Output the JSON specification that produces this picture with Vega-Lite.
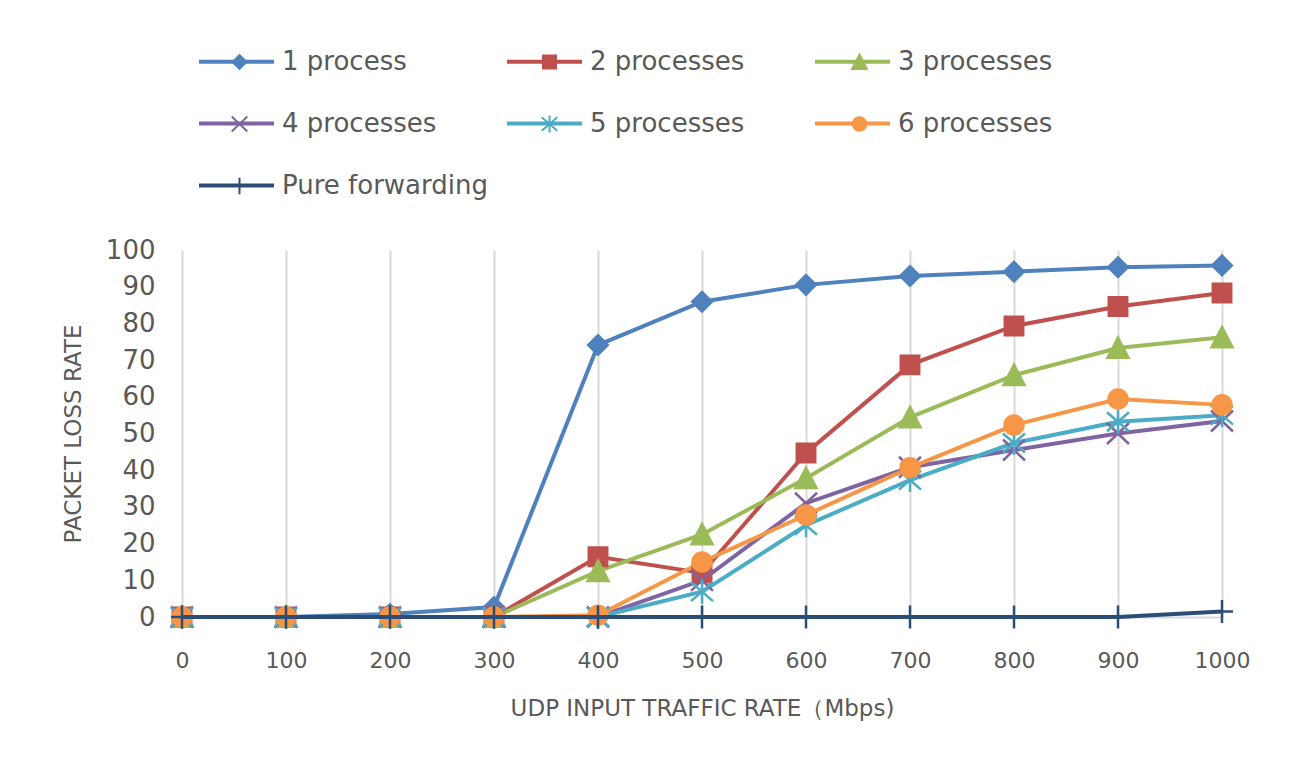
{
  "$schema": "https://vega.github.io/schema/vega-lite/v6.json",
  "width": 1040,
  "height": 367,
  "autosize": {"type": "none"},
  "padding": {"left": 182, "top": 250, "right": 78, "bottom": 147},
  "background": "white",
  "config": {
    "view": {"stroke": null},
    "font": "DejaVu Sans",
    "legend": {
      "orient": "none",
      "direction": "horizontal",
      "columns": 3,
      "gridAlign": "all",
      "columnPadding": 11,
      "rowPadding": 36,
      "padding": 0,
      "labelFont": "DejaVu Sans",
      "labelFontSize": 26,
      "labelColor": "#595959",
      "labelLimit": 400
    }
  },
  "data": {
    "values": [
      {"x": 0, "series": "1 process", "v": 0},
      {"x": 100, "series": "1 process", "v": 0},
      {"x": 200, "series": "1 process", "v": 0.8},
      {"x": 300, "series": "1 process", "v": 2.7},
      {"x": 400, "series": "1 process", "v": 74.1},
      {"x": 500, "series": "1 process", "v": 85.9},
      {"x": 600, "series": "1 process", "v": 90.5},
      {"x": 700, "series": "1 process", "v": 92.9},
      {"x": 800, "series": "1 process", "v": 94.1},
      {"x": 900, "series": "1 process", "v": 95.3},
      {"x": 1000, "series": "1 process", "v": 95.8},
      {"x": 0, "series": "2 processes", "v": 0},
      {"x": 100, "series": "2 processes", "v": 0},
      {"x": 200, "series": "2 processes", "v": 0},
      {"x": 300, "series": "2 processes", "v": 0},
      {"x": 400, "series": "2 processes", "v": 16.4},
      {"x": 500, "series": "2 processes", "v": 12},
      {"x": 600, "series": "2 processes", "v": 44.7},
      {"x": 700, "series": "2 processes", "v": 68.7},
      {"x": 800, "series": "2 processes", "v": 79.3},
      {"x": 900, "series": "2 processes", "v": 84.6},
      {"x": 1000, "series": "2 processes", "v": 88.3},
      {"x": 0, "series": "3 processes", "v": 0},
      {"x": 100, "series": "3 processes", "v": 0},
      {"x": 200, "series": "3 processes", "v": 0},
      {"x": 300, "series": "3 processes", "v": 0},
      {"x": 400, "series": "3 processes", "v": 12.5},
      {"x": 500, "series": "3 processes", "v": 22.5},
      {"x": 600, "series": "3 processes", "v": 37.8},
      {"x": 700, "series": "3 processes", "v": 54.4},
      {"x": 800, "series": "3 processes", "v": 65.9},
      {"x": 900, "series": "3 processes", "v": 73.3},
      {"x": 1000, "series": "3 processes", "v": 76.2},
      {"x": 0, "series": "4 processes", "v": 0},
      {"x": 100, "series": "4 processes", "v": 0},
      {"x": 200, "series": "4 processes", "v": 0},
      {"x": 300, "series": "4 processes", "v": 0},
      {"x": 400, "series": "4 processes", "v": 0},
      {"x": 500, "series": "4 processes", "v": 10},
      {"x": 600, "series": "4 processes", "v": 31},
      {"x": 700, "series": "4 processes", "v": 40.8},
      {"x": 800, "series": "4 processes", "v": 45.5},
      {"x": 900, "series": "4 processes", "v": 50},
      {"x": 1000, "series": "4 processes", "v": 53.4},
      {"x": 0, "series": "5 processes", "v": 0},
      {"x": 100, "series": "5 processes", "v": 0},
      {"x": 200, "series": "5 processes", "v": 0},
      {"x": 300, "series": "5 processes", "v": 0},
      {"x": 400, "series": "5 processes", "v": 0},
      {"x": 500, "series": "5 processes", "v": 6.9},
      {"x": 600, "series": "5 processes", "v": 25},
      {"x": 700, "series": "5 processes", "v": 37.3},
      {"x": 800, "series": "5 processes", "v": 47.4},
      {"x": 900, "series": "5 processes", "v": 53.2},
      {"x": 1000, "series": "5 processes", "v": 55},
      {"x": 0, "series": "6 processes", "v": 0},
      {"x": 100, "series": "6 processes", "v": 0},
      {"x": 200, "series": "6 processes", "v": 0},
      {"x": 300, "series": "6 processes", "v": 0},
      {"x": 400, "series": "6 processes", "v": 0.5},
      {"x": 500, "series": "6 processes", "v": 15},
      {"x": 600, "series": "6 processes", "v": 27.8},
      {"x": 700, "series": "6 processes", "v": 40.7},
      {"x": 800, "series": "6 processes", "v": 52.3},
      {"x": 900, "series": "6 processes", "v": 59.4},
      {"x": 1000, "series": "6 processes", "v": 57.8},
      {"x": 0, "series": "Pure forwarding", "v": 0},
      {"x": 100, "series": "Pure forwarding", "v": 0},
      {"x": 200, "series": "Pure forwarding", "v": 0},
      {"x": 300, "series": "Pure forwarding", "v": 0},
      {"x": 400, "series": "Pure forwarding", "v": 0},
      {"x": 500, "series": "Pure forwarding", "v": 0},
      {"x": 600, "series": "Pure forwarding", "v": 0},
      {"x": 700, "series": "Pure forwarding", "v": 0},
      {"x": 800, "series": "Pure forwarding", "v": 0},
      {"x": 900, "series": "Pure forwarding", "v": 0},
      {"x": 1000, "series": "Pure forwarding", "v": 1.5}
    ]
  },
  "encoding": {
    "x": {
      "field": "x", "type": "quantitative",
      "scale": {"domain": [0, 1000], "nice": false, "zero": false},
      "axis": {
        "values": [0, 100, 200, 300, 400, 500, 600, 700, 800, 900, 1000],
        "format": "d",
        "labelFlush": false,
        "grid": true, "gridColor": "#d9d9d9", "gridWidth": 2,
        "domainColor": "#d9d9d9", "domainWidth": 2,
        "ticks": false,
        "labelFont": "DejaVu Sans", "labelFontSize": 22, "labelColor": "#595959", "labelPadding": 33,
        "title": "UDP INPUT TRAFFIC RATE（Mbps)",
        "titleFont": "DejaVu Sans", "titleFontSize": 23, "titleFontWeight": "normal", "titleColor": "#595959",
        "titlePadding": 26
      }
    },
    "y": {
      "field": "v", "type": "quantitative",
      "scale": {"domain": [0, 100], "nice": false},
      "axis": {
        "values": [0, 10, 20, 30, 40, 50, 60, 70, 80, 90, 100],
        "grid": false, "domain": false, "ticks": false,
        "labelFont": "DejaVu Sans", "labelFontSize": 26, "labelColor": "#595959", "labelPadding": 27,
        "title": "PACKET LOSS RATE",
        "titleFont": "DejaVu Sans", "titleFontSize": 23, "titleFontWeight": "normal", "titleColor": "#595959",
        "titlePadding": 20
      }
    }
  },
  "layer": [
    {
      "transform": [{"filter": "datum.series !== 'Pure forwarding'"}],
      "mark": {"type": "line", "strokeWidth": 4},
      "encoding": {
        "color": {
          "field": "series", "type": "nominal",
          "scale": {"range": ["#4f81bd", "#c0504d", "#9bbb59", "#8064a2", "#4bacc6", "#f79646", "#2c4d75"]},
          "legend": {
            "title": null,
            "legendX": 15,
            "legendY": -228,
            "rowPadding": 9,
            "symbolType": "stroke",
            "symbolSize": 5625,
            "symbolStrokeWidth": 4,
            "labelOffset": 6
          }
        }
      }
    },
    {
      "mark": {"type": "point", "opacity": 1, "size": 400, "strokeWidth": 2.5},
      "encoding": {
        "fill": {
          "field": "series", "type": "nominal",
          "scale": {"range": ["#4f81bd", "#c0504d", "#9bbb59", "#8064a2", "#4bacc6", "#f79646", "#2c4d75"]},
          "legend": {"title": null, "legendX": 44.5, "legendY": -201, "symbolSize": 200, "symbolStrokeWidth": 2, "labelOffset": 0, "labelExpr": "' '", "columnPadding": 284}
        },
        "stroke": {
          "field": "series", "type": "nominal",
          "scale": {"range": ["#4f81bd", "#c0504d", "#9bbb59", "#8064a2", "#4bacc6", "#f79646", "#2c4d75"]},
          "legend": {"title": null, "legendX": 44.5, "legendY": -201, "symbolSize": 200, "symbolStrokeWidth": 2, "labelOffset": 0, "labelExpr": "' '", "columnPadding": 284}
        },
        "shape": {
          "field": "series", "type": "nominal",
          "scale": {
            "range": [
              "M0,-0.98L0.98,0L0,0.98L-0.98,0Z",
              "M-0.92,-0.92H0.92V0.92H-0.92Z",
              "M0,-1.05L1.05,0.98L-1.05,0.98Z",
              "M-1.1,-1.05L1.1,1.05M-1.1,1.05L1.1,-1.05",
              "M-1.1,-0.95L1.1,0.95M-1.1,0.95L1.1,-0.95M0,-1.2V1.2",
              "M0.95,0A0.95,0.95 0 1,1 -0.95,0A0.95,0.95 0 1,1 0.95,0Z",
              "M-1.1,0H1.1M0,-1.15V1.15"
            ]
          },
          "legend": {"title": null, "legendX": 44.5, "legendY": -201, "symbolSize": 200, "symbolStrokeWidth": 2, "labelOffset": 0, "labelExpr": "' '", "columnPadding": 284}
        }
      }
    },
    {
      "transform": [{"filter": "datum.series === 'Pure forwarding'"}],
      "mark": {"type": "line", "strokeWidth": 4},
      "encoding": {
        "color": {"field": "series", "type": "nominal"}
      }
    }
  ]
}
